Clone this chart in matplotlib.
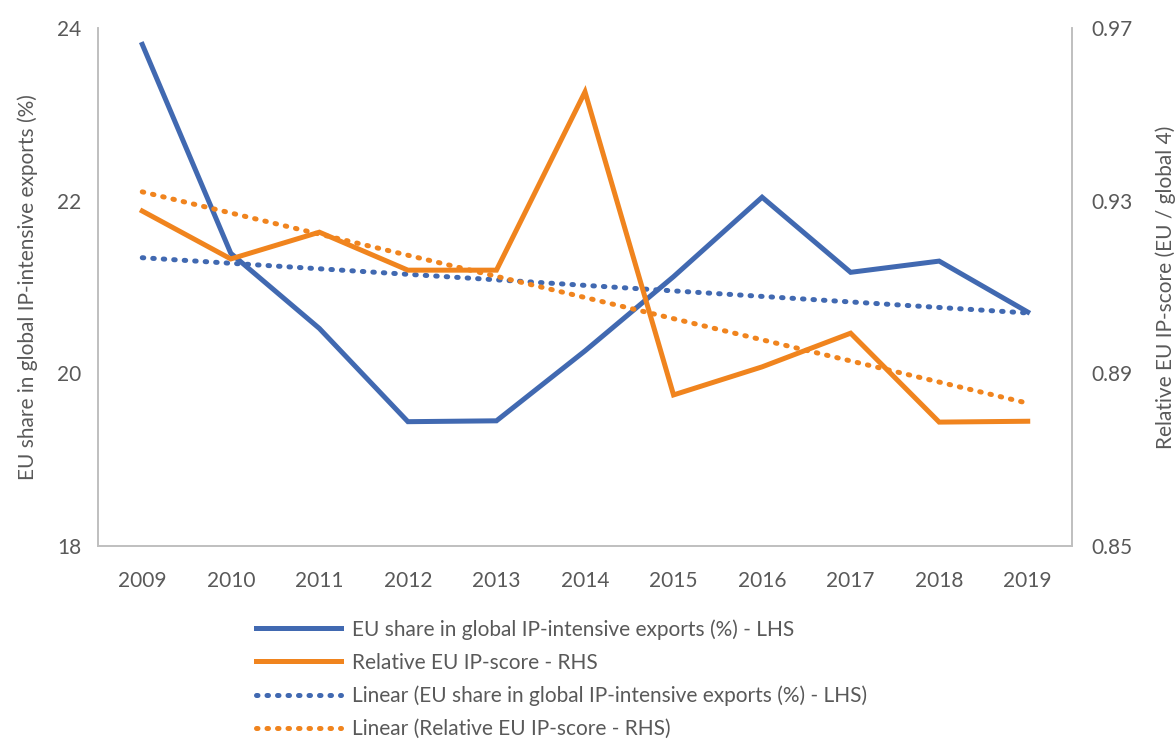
import numpy as np
import matplotlib
matplotlib.use("Agg")
import matplotlib.pyplot as plt

plt.rcParams["font.family"] = ["Lato", "DejaVu Sans"]

years = ["2009", "2010", "2011", "2012", "2013", "2014", "2015", "2016", "2017", "2018", "2019"]
eu_share = [23.81, 21.39, 20.52, 19.44, 19.45, 20.26, 21.12, 22.04, 21.17, 21.30, 20.71]
ip_score = [0.9276, 0.9165, 0.9227, 0.9139, 0.9139, 0.9552, 0.8850, 0.8915, 0.8993, 0.8787, 0.8789]

left_ticks = [18, 20, 22, 24]
right_ticks = [0.85, 0.89, 0.93, 0.97]

blue = "#4169B1"
orange = "#F0841E"
grey = "#595959"

x = np.arange(len(years))
# excel style linear trendlines
b_fit = np.polyval(np.polyfit(x, eu_share, 1), x)
o_fit = np.polyval(np.polyfit(x, ip_score, 1), x)

fig = plt.figure(figsize=(11.75, 7.42), dpi=100)
ax = fig.add_axes([98 / 1175, 1 - 546 / 742, (1072 - 98) / 1175, (546 - 28) / 742])
ax2 = ax.twinx()

lw = 3.6
dots = (0, (0.3, 1.8))

l1, = ax.plot(x, eu_share, color=blue, lw=lw, solid_joinstyle="miter", zorder=3)
l3, = ax.plot(x, b_fit, color=blue, lw=lw, linestyle=dots, dash_capstyle="round", zorder=2)
l2, = ax2.plot(x, ip_score, color=orange, lw=lw, solid_joinstyle="miter", zorder=3)
l4, = ax2.plot(x, o_fit, color=orange, lw=lw, linestyle=dots, dash_capstyle="round", zorder=2)

ax.set_xlim(-0.5, len(years) - 0.5)
ax.set_ylim(18, 24)
ax2.set_ylim(0.85, 0.97)
ax.set_xticks(x)
ax.set_xticklabels(years)
ax.set_yticks(left_ticks)
ax2.set_yticks(right_ticks)
ax2.set_yticklabels(["%.2f" % t for t in right_ticks])

for a in (ax, ax2):
    a.spines["top"].set_visible(False)
    for s in ("left", "right", "bottom"):
        a.spines[s].set_color("#BFBFBF")
        a.spines[s].set_linewidth(1.2)
    a.tick_params(length=0, labelsize=15, colors=grey)
ax.tick_params(axis="x", pad=18)
ax.tick_params(axis="y", pad=12)
ax2.tick_params(axis="y", pad=14)

ax.set_ylabel("EU share in global IP-intensive exports (%)", fontsize=15, color=grey, labelpad=14)
ax2.set_ylabel("Relative EU IP-score (EU / global 4)", fontsize=15, color=grey, labelpad=16)

labels = [
    "EU share in global IP-intensive exports (%) - LHS",
    "Relative EU IP-score - RHS",
    "Linear (EU share in global IP-intensive exports (%) - LHS)",
    "Linear (Relative EU IP-score - RHS)",
]
leg = fig.legend([l1, l2, l3, l4], labels, loc="upper left",
                 bbox_to_anchor=(256 / 1175, 1 - 619 / 742), frameon=False,
                 fontsize=15, handlelength=4.1, handletextpad=0.5,
                 labelspacing=0.62, borderpad=0, borderaxespad=0)
for t in leg.get_texts():
    t.set_color(grey)

fig.savefig("out.png", dpi=100)
